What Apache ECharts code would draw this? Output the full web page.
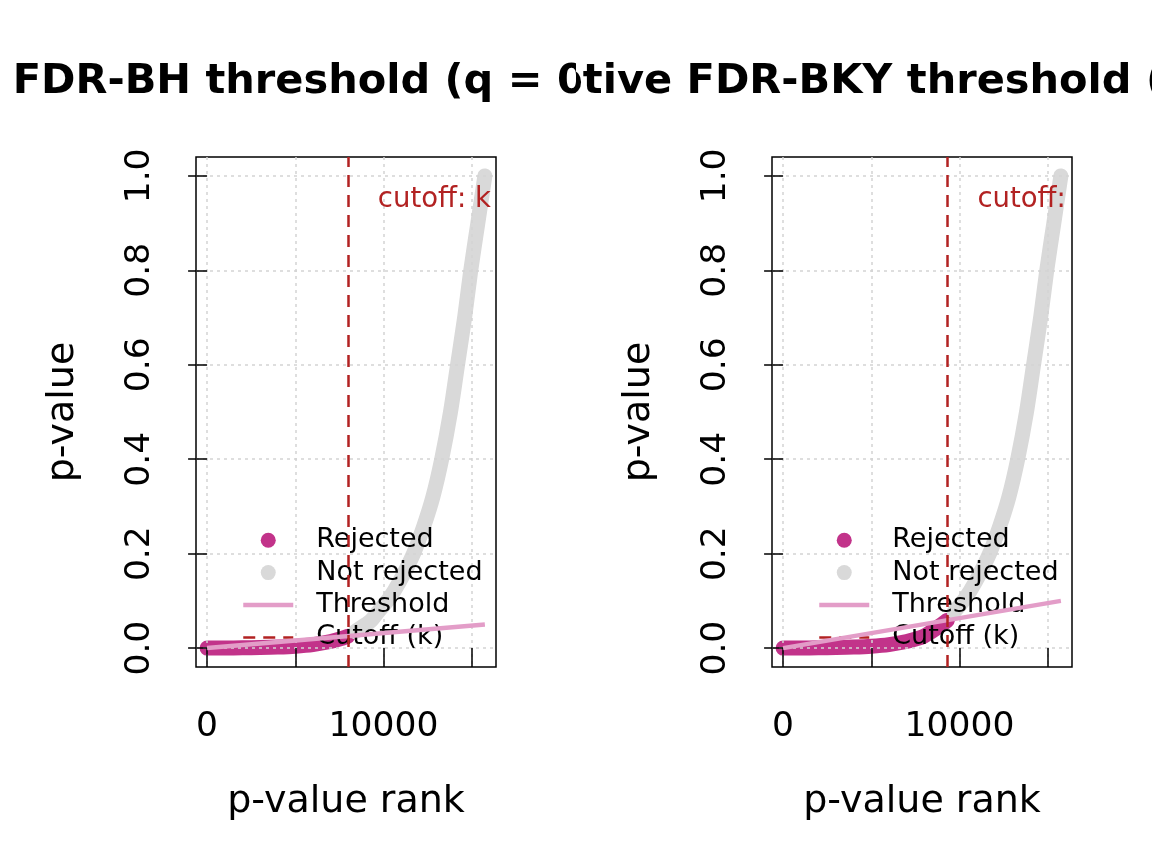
<!DOCTYPE html>
<html>
<head>
<meta charset="utf-8">
<script src="https://cdn.jsdelivr.net/npm/echarts@6/dist/echarts.min.js"></script>
<style>
html, body { margin: 0; padding: 0; background: #ffffff; }
#wrap { position: relative; width: 1152px; height: 864px; overflow: hidden; }
.panel { position: absolute; top: 0; width: 576px; height: 864px; }
</style>
</head>
<body>
<div id="wrap">
  <div id="left" class="panel" style="left:0px"></div>
  <div id="right" class="panel" style="left:576px"></div>
</div>
<script>
// ---------- data ----------
const nTests = 15750;
const pRanks  = [1, 1000, 2000, 3000, 4000, 5000, 6000, 7000, 7500, 7980, 8400, 9000, 9315, 9700, 10300, 10900, 11700, 12300, 12800, 13300, 13800, 14200, 14600, 14950, 15350, 15750];
const pValues = [0, 0.0002, 0.0006, 0.0012, 0.0022, 0.004, 0.0075, 0.014, 0.019, 0.0253, 0.035, 0.05, 0.059, 0.077, 0.104, 0.14, 0.2, 0.26, 0.32, 0.4, 0.5, 0.6, 0.7, 0.8, 0.9, 1.0];
const thresholdRanks = [1, 15750];
const thresholdBH  = [0, 0.05];
const thresholdBKY = [0, 0.1];
const cutoffBH  = 7980;
const cutoffBKY = 9315;
const xTicks  = [0, 5000, 10000, 15000];
const xLabels = [0, 10000];
const yTicks  = [0, 0.2, 0.4, 0.6, 0.8, 1.0];
const titles  = ['FDR-BH threshold (q = 0.05)', 'Adaptive FDR-BKY threshold (q = 0.05)'];
const legendNames = ['Rejected', 'Not rejected', 'Threshold', 'Cutoff (k)'];
const cutoffLabelP = 0.95;

// ---------- styles ----------
const FONT = 'DejaVu Sans';
const C_REJ = '#C2338A';
const C_NOT = '#D9D9D9';
const C_THR = '#E39DC8';
const C_CUT = '#B22222';
const C_GRID = '#D3D3D3';

// R-style 4% axis extension
const xMin = 1 - 0.04 * (nTests - 1);
const xMax = nTests + 0.04 * (nTests - 1);
const yMin = -0.04, yMax = 1.04;

function makeOption(title, thrVals, k) {
  const pts = pRanks.map((r, i) => [r, pValues[i]]);
  const rej = pts.filter(p => p[0] <= k);
  const notRej = pts.filter(p => p[0] > k);
  const thr = thresholdRanks.map((r, i) => [r, thrVals[i]]);
  const gridLine = { color: C_GRID, type: [3, 4], width: 1.5 };
  const tickLine = { color: '#000', width: 1.5 };
  const hiddenDot = { opacity: 0, color: 'rgba(0,0,0,0)', borderWidth: 0 };
  return {
    animation: false,
    title: {
      text: title, left: 345.5, top: 61, textAlign: 'center', padding: 0,
      textStyle: { fontFamily: FONT, fontWeight: 'bold', fontSize: 41.5, color: '#000' }
    },
    grid: {
      left: 196, top: 157, width: 300, height: 510,
      show: true, borderColor: '#000', borderWidth: 1.5, backgroundColor: 'transparent',
      containLabel: false, outerBoundsMode: 'none'
    },
    xAxis: {
      type: 'value', min: xMin, max: xMax, z: 3,
      name: 'p-value rank', nameLocation: 'middle', nameGap: 116,
      nameTextStyle: { fontFamily: FONT, fontSize: 38, color: '#000' },
      axisLine: { show: false },
      axisTick: { show: true, length: 19, customValues: xTicks, lineStyle: tickLine },
      axisLabel: { customValues: xLabels, margin: 43, fontFamily: FONT, fontSize: 34.5, color: '#000',
                   formatter: v => String(v) },
      splitLine: { show: true, lineStyle: gridLine }
    },
    yAxis: {
      type: 'value', min: yMin, max: yMax, z: 3,
      name: 'p-value', nameLocation: 'middle', nameGap: 114,
      nameTextStyle: { fontFamily: FONT, fontSize: 38, color: '#000' },
      axisLine: { show: false },
      axisTick: { show: true, length: 19, customValues: yTicks, lineStyle: tickLine },
      axisLabel: { customValues: yTicks, rotate: 90, margin: 38, fontFamily: FONT, fontSize: 34.5, color: '#000',
                   formatter: v => v.toFixed(1) },
      splitLine: { show: true, lineStyle: gridLine }
    },
    legend: {
      orient: 'vertical', left: 241, top: 524, padding: 0,
      itemWidth: 50, itemHeight: 15, itemGap: 0, selectedMode: false,
      data: [
        { name: legendNames[0], icon: 'circle' },
        { name: legendNames[1], icon: 'circle' },
        { name: legendNames[2], itemStyle: hiddenDot },
        { name: legendNames[3], itemStyle: hiddenDot }
      ],
      lineStyle: { width: 'inherit' },
      textStyle: { fontFamily: FONT, fontSize: 27, color: '#000', lineHeight: 32.4, padding: [0, 0, 0, 18] }
    },
    series: [
      {
        type: 'line', name: legendNames[0], data: rej, symbol: 'none', color: C_REJ, z: 2,
        smooth: 0.3,
        lineStyle: { color: C_REJ, width: 15, cap: 'round', join: 'round' }, silent: true
      },
      {
        type: 'line', name: legendNames[1], data: notRej, symbol: 'none', color: C_NOT, z: 2,
        smooth: 0.3,
        lineStyle: { color: C_NOT, width: 15, cap: 'round', join: 'round' }, silent: true
      },
      {
        type: 'line', name: legendNames[2], data: thr, symbol: 'none', color: C_THR, z: 4,
        lineStyle: { color: C_THR, width: 4.5 }, silent: true
      },
      {
        type: 'line', name: legendNames[3], data: [], symbol: 'none', color: C_CUT, z: 5,
        lineStyle: { color: C_CUT, width: 2.5, type: [12, 8] }, silent: true,
        markLine: {
          silent: true, symbol: 'none', label: { show: false },
          lineStyle: { color: C_CUT, width: 2.5, type: [12, 8] },
          data: [{ xAxis: k }]
        }
      },
      {
        type: 'custom', name: 'cutoff label', clip: true, z: 6, silent: true,
        data: [[k, cutoffLabelP]],
        renderItem: function (params, api) {
          const c = api.coord([api.value(0), api.value(1)]);
          return {
            type: 'text', x: c[0] + 30, y: c[1],
            style: { text: 'cutoff: k = ' + api.value(0), fill: C_CUT, fontFamily: FONT, fontSize: 27.5,
                     align: 'left', verticalAlign: 'middle' }
          };
        }
      }
    ]
  };
}

const chartL = echarts.init(document.getElementById('left'), null, { renderer: 'canvas' });
chartL.setOption(makeOption(titles[0], thresholdBH, cutoffBH));
const chartR = echarts.init(document.getElementById('right'), null, { renderer: 'canvas' });
chartR.setOption(makeOption(titles[1], thresholdBKY, cutoffBKY));
</script>
</body>
</html>
